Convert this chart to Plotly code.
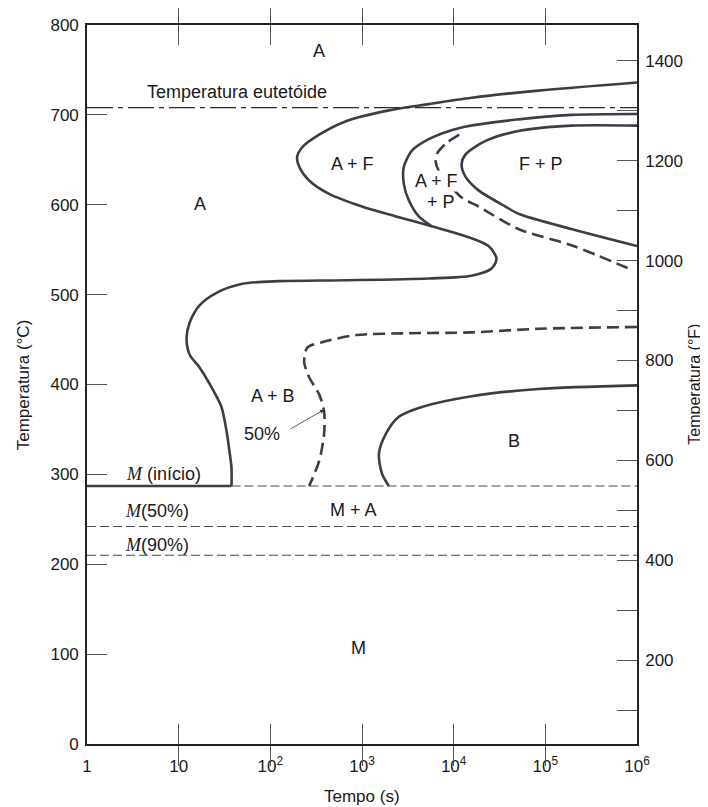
import math
import plotly.graph_objects as go

# ---------------- data (time in s, temperature in °C) ----------------
start_t = [1e6, 84000, 15700, 5350, 1964, 670, 341, 223, 196, 207, 265, 438, 1000, 2344, 5770,
           13500, 24000, 29300, 25900, 15700, 5350, 670, 125, 49.6, 25.9, 16.9, 13.2, 12.2,
           13.2, 16.9, 22.8, 29.3, 33.3, 35.8, 37.7, 37.7]
start_T = [736, 727, 719, 712, 705, 693, 678, 664, 653, 642, 627, 612, 598, 587, 576,
           565, 554, 540, 529, 521, 518, 516, 515, 512, 502, 488, 469, 452,
           433, 419, 397, 375, 348, 326, 307, 287]

pearl_start_t = [1e6, 192000, 50900, 12200, 5350, 3490, 2860, 2860, 3240, 4170, 5770]
pearl_start_T = [701, 700, 695, 686, 673, 660, 642, 623, 605, 587, 576]

finish_t = [1e6, 192000, 50900, 22300, 13500, 12200, 13500, 18700, 36700, 50900, 192000, 1e6]
finish_T = [688, 688, 682, 671, 656, 645, 631, 616, 598, 590, 573, 554]

pearl50_t = [11500, 8200, 6600, 6370, 6870, 11900, 18700, 50900, 192000, 906000]
pearl50_T = [678, 668, 657, 648, 638, 609, 598, 573, 555, 527]

bain50_t = [1e6, 84000, 15700, 3240, 861, 367, 253, 234, 265, 341, 386, 386, 341, 265]
bain50_T = [464, 462, 458, 457, 455, 447, 441, 425, 408, 389, 370, 345, 315, 287]

bainfin_t = [1e6, 84000, 15700, 4490, 2520, 1820, 1530, 1650, 1960]
bainfin_T = [399, 395, 387, 375, 364, 345, 323, 301, 287]

T_eutectoid = 708
T_Ms, T_M50, T_M90 = 287, 242, 210
t_Ms_end = 37.7

x_tickvals = [1, 10, 100, 1e3, 1e4, 1e5, 1e6]
x_ticktext = ["1", "10", "10<sup>2</sup>", "10<sup>3</sup>", "10<sup>4</sup>", "10<sup>5</sup>", "10<sup>6</sup>"]
yC_ticks = [0, 100, 200, 300, 400, 500, 600, 700, 800]
yF_ticks = [200, 400, 600, 800, 1000, 1200, 1400]

labels = [
    ("A", 341, 771), ("Temperatura eutetóide", 43.8, 725), ("A + F", 778, 645),
    ("A", 16.9, 601), ("F + P", 90600, 645),
    ("A + B", 108, 387), ("50%", 81.9, 345), ("B", 46000, 337),
    ("M + A", 798, 260), ("M", 927, 107),
    ("+ P", 7200, 603),
]
boxed_labels = [("A + F", 6530, 626)]
m_labels = [
    ("<span style='font-family:Liberation Serif;font-style:italic'>M</span> (início)", 6.87, 300),
    ("<span style='font-family:Liberation Serif;font-style:italic'>M</span>(50%)", 5.77, 259),
    ("<span style='font-family:Liberation Serif;font-style:italic'>M</span>(90%)", 5.77, 221),
]

# ---------------- figure ----------------
LC = "#3d3d47"
fig = go.Figure()

def curve(t, T, dash="solid", width=2.6, shape="spline"):
    fig.add_trace(go.Scatter(x=t, y=T, mode="lines", line=dict(color=LC, width=width, dash=dash,
                                                                 shape=shape, smoothing=0.8),
                             hoverinfo="skip", showlegend=False))

curve(start_t, start_T)
curve(pearl_start_t, pearl_start_T)
curve(finish_t, finish_T)
curve(pearl50_t, pearl50_T, dash="12px,6px")
curve(bain50_t, bain50_T, dash="12px,6px")
curve(bainfin_t, bainfin_T)
curve([1, t_Ms_end], [T_Ms, T_Ms], shape="linear")

def hline(T, x0, dash, width=1.1, color="#4a4a52"):
    fig.add_trace(go.Scatter(x=[x0, 1e6], y=[T, T], mode="lines",
                             line=dict(color=color, width=width, dash=dash),
                             hoverinfo="skip", showlegend=False))

hline(T_eutectoid, 1, "26px,5px,5px,5px", width=1.2, color="#2a2a30")
hline(T_Ms, t_Ms_end, "9px,4px")
hline(T_M50, 1, "9px,4px")
hline(T_M90, 1, "9px,4px")

# invisible trace for the °F axis
fig.add_trace(go.Scatter(x=[1, 1e6], y=[32, 1472], yaxis="y2", mode="lines",
                         line=dict(width=0), opacity=0, hoverinfo="skip", showlegend=False))

FONT = "Liberation Sans, Arial, sans-serif"
LFONT = dict(family=FONT, size=18, color="#1a1a1a")
for txt, t, T in labels + m_labels:
    fig.add_annotation(x=math.log10(t), y=T, text=txt, showarrow=False, font=LFONT)
for txt, t, T in boxed_labels:
    fig.add_annotation(x=math.log10(t), y=T, text=txt, showarrow=False, font=LFONT,
                       bgcolor="white", borderpad=0)

# arrow from "50%" to bainite 50% curve
fig.add_annotation(x=math.log10(386), y=372, ax=-35, ay=20, text="", showarrow=True,
                   arrowhead=2, arrowsize=1, arrowwidth=0.8, arrowcolor="#333")

# axis titles
TFONT = dict(family=FONT, size=17, color="#1a1a1a")
fig.add_annotation(xref="paper", yref="paper", x=0.5, y=-0.073, yanchor="middle", xanchor="center",
                   text="Tempo (s)", showarrow=False, font=TFONT)
fig.add_annotation(xref="paper", yref="paper", x=-0.115, y=0.5, textangle=-90,
                   xanchor="center", yanchor="middle",
                   text="Temperatura (°C)", showarrow=False, font=TFONT)
fig.add_annotation(xref="paper", yref="paper", x=1.104, y=0.5, textangle=-90,
                   xanchor="center", yanchor="middle",
                   text="Temperatura (°F)", showarrow=False,
                   font=dict(family=FONT, size=16, color="#1a1a1a"))

axcommon = dict(showgrid=False, zeroline=False, ticks="inside", ticklen=20, tickwidth=1,
                tickcolor="#555", showline=True, linecolor="#222", linewidth=1.6,
                tickfont=dict(family=FONT, size=17, color="#1a1a1a"))

fig.update_layout(
    width=700, height=799,
    margin=dict(l=79, r=71, t=8, b=63),
    paper_bgcolor="white", plot_bgcolor="white",
    xaxis=dict(type="log", range=[0, 6], tickvals=x_tickvals, ticktext=x_ticktext,
               mirror="allticks", ticklabelstandoff=6, **axcommon),
    yaxis=dict(range=[0, 800], tickvals=yC_ticks, mirror=False, ticklabelstandoff=3, **axcommon),
    yaxis2=dict(range=[32, 1472], overlaying="y", side="right", tickvals=yF_ticks,
                ticklabelstandoff=3,
                minor=dict(ticks="inside", ticklen=20, tickwidth=1, tickcolor="#555",
                           tick0=0, dtick=100),
                **axcommon),
)

fig.write_html("out.html")
